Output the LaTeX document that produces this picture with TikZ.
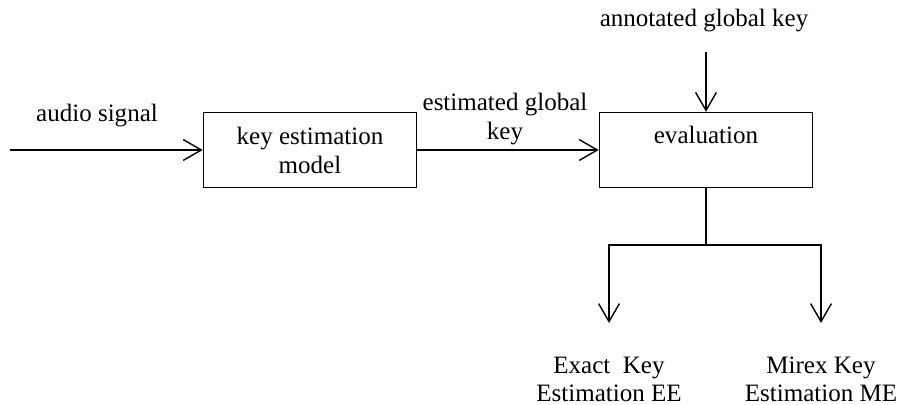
\documentclass[tikz,border=0pt]{standalone}
\usepackage{fontspec}
\setmainfont{Liberation Serif}
\usetikzlibrary{arrows.meta}
\tikzset{block/.style={draw, rectangle, inner sep=0pt, minimum width=5.33cm, minimum height=1.875cm, align=center},
  txt/.style={inner sep=0pt, align=center},
  arr/.style={-{Straight Barb[length=0.45cm, width=0.52cm]}}}

\begin{document}
\begin{tikzpicture}[x=0.025cm, y=-0.025cm, line width=1pt]
  \fontsize{17.8}{20.6}\selectfont
  \useasboundingbox (0,0) rectangle (900,405);
  \node [block] (model) at (310,150) {key estimation\\model};
  \node [block, text height=0.775cm, text depth=1.1cm] (eval) at (706,150) {evaluation};
  \node [txt, anchor=base] (audio) at (97,122) {audio signal};
  \node [txt, anchor=north] (est) at (505,92) {estimated global\\key};
  \node [txt, anchor=base] (annot) at (704,27) {annotated global key};
  \node [txt, anchor=north, font=\fontsize{17.8}{19.9}\selectfont] (ee) at (609,356) {Exact\ \ Key\\Estimation EE};
  \node [txt, anchor=north, font=\fontsize{17.8}{19.9}\selectfont] (me) at (821,356) {Mirex Key\\Estimation ME};
  \coordinate (in) at (10,150);
  \coordinate (top) at (706,52);
  \coordinate (split) at (706,245);
  \coordinate (eeend) at (609,323);
  \coordinate (meend) at (821,323);
  % connectors
  \draw [arr] (in) -- (model.west);
  \draw [arr] (model.east) -- (eval.west);
  \draw [arr] (top) -- (eval.north);
  \draw (eval.south) -- (split);
  \draw [arr] (split) -| (eeend);
  \draw [arr] (split) -| (meend);
\end{tikzpicture}
\end{document}
